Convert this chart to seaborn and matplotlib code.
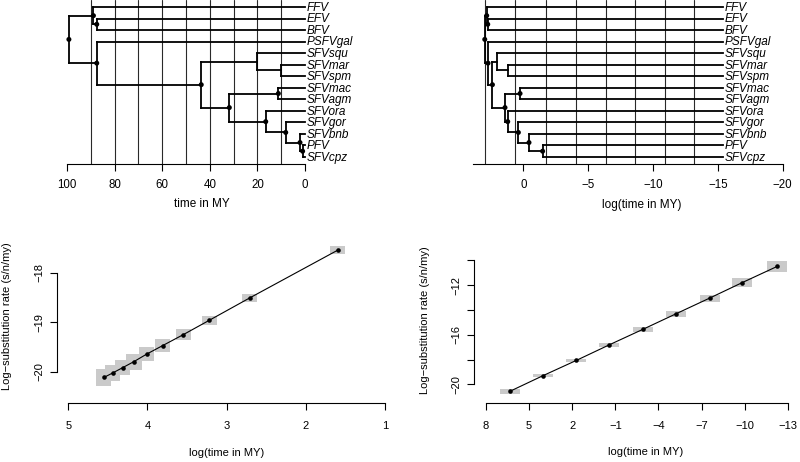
import numpy as np
import pandas as pd
import matplotlib
matplotlib.use("Agg")
import matplotlib.pyplot as plt
import seaborn as sns

# ---------------- data ----------------
tip_labels = ["FFV", "EFV", "BFV", "PSFVgal", "SFVsqu", "SFVmar", "SFVspm",
              "SFVmac", "SFVagm", "SFVora", "SFVgor", "SFVbnb", "PFV", "SFVcpz"]
node_names = ["root", "nF", "nEB", "nB", "nNW", "nSQU", "nMAR",
              "nCAT", "nMAC", "nORA", "nGOR", "nBNB", "nPC"]
node_children = [("nF", "nB"), ("FFV", "nEB"), ("EFV", "BFV"), ("PSFVgal", "nNW"),
                 ("nSQU", "nCAT"), ("SFVsqu", "nMAR"), ("SFVmar", "SFVspm"),
                 ("nMAC", "nORA"), ("SFVmac", "SFVagm"), ("SFVora", "nGOR"),
                 ("SFVgor", "nBNB"), ("SFVbnb", "nPC"), ("PFV", "SFVcpz")]
node_age_my = [99.2, 88.9, 87.5, 87.5, 43.6, 20.3, 10.2, 31.8, 11.2, 16.5, 8.1, 2.1, 1.0]
node_logx = [2.97, 2.82, 2.74, 2.72, 2.38, 2.05, 1.20, 1.41, 0.25, 1.20, 0.38, -0.44, -1.49]
node_dot = [True, True, True, True, True, False, False, True, True, True, True, True, True]
tip_age_my = 0.0
tip_logx = -15.36

bins_time = [90, 80, 70, 60, 50, 40, 30, 20, 10]
bins_logtime = [2.92, 0.64, -1.72, -4.03, -6.34, -8.62, -10.90, -13.15]

time_ticks = [100, 80, 60, 40, 20, 0]
logtime_ticks = [0, -5, -10, -15, -20]

# bottom-left: rate vs log(time), binned by time
bl_x = [4.55, 4.44, 4.31, 4.17, 4.01, 3.81, 3.55, 3.22, 2.71, 1.60]
bl_y = [-20.11, -20.02, -19.91, -19.79, -19.64, -19.47, -19.25, -18.96, -18.51, -17.55]
bl_w = [0.19, 0.19, 0.19, 0.19, 0.19, 0.19, 0.19, 0.19, 0.19, 0.19]
bl_h = [0.36, 0.32, 0.32, 0.32, 0.28, 0.25, 0.22, 0.18, 0.15, 0.17]
bl_xticks = [5, 4, 3, 2, 1]
bl_yticks = [-20, -19, -18]

# bottom-right: rate vs log(time), binned by log(time)
br_x = [6.33, 4.03, 1.71, -0.59, -2.91, -5.23, -7.56, -9.81, -12.25]
br_y = [-20.56, -19.30, -18.07, -16.81, -15.57, -14.31, -13.05, -11.81, -10.50]
br_w = [1.39, 1.39, 1.39, 1.39, 1.39, 1.39, 1.39, 1.39, 1.39]
br_h = [0.37, 0.27, 0.24, 0.30, 0.37, 0.48, 0.56, 0.72, 0.89]
br_xticks = [8, 5, 2, -1, -4, -7, -10, -13]
br_yticks = [-20, -18, -16, -14, -12, -10]
br_ylabels = ["\u221220", "", "\u221216", "", "\u221212", ""]

# ---------------- style ----------------
sns.set_theme(style="ticks", rc={
    "axes.edgecolor": "black", "xtick.color": "black", "ytick.color": "black",
    "text.color": "black", "axes.labelcolor": "black",
    "axes.linewidth": 0.8, "xtick.major.width": 0.8, "ytick.major.width": 0.8,
    "xtick.major.size": 5, "ytick.major.size": 5,
    "xtick.labelsize": 8, "ytick.labelsize": 8,
})
plt.rcParams["font.family"] = ["Liberation Sans", "DejaVu Sans"]
plt.rcParams["axes.unicode_minus"] = True

W, H = 800, 462
fig = plt.figure(figsize=(8, 4.62), dpi=100)


def box(l, t, r, b):
    return [l / W, 1 - b / H, (r - l) / W, (b - t) / H]


def minus(v):
    s = f"{v:g}"
    return s.replace("-", "\u2212")


def tree_y():
    ypos = {name: i + 1 for i, name in enumerate(tip_labels)}
    children = dict(zip(node_names, node_children))

    def gety(n):
        if n not in ypos:
            c1, c2 = children[n]
            ypos[n] = (gety(c1) + gety(c2)) / 2
        return ypos[n]

    gety("root")
    return ypos


def draw_tree(ax, node_x, tip_x, bins, xlim, ticks, spine_bounds):
    ax.set_xlim(*xlim)
    ax.set_ylim(14.61, 0.393)
    for b in bins:
        ax.axvline(b, color="#2a2a2a", lw=0.8, zorder=1)
    xs = dict(zip(node_names, node_x))
    for t in tip_labels:
        xs[t] = tip_x
    ypos = tree_y()
    for n, (c1, c2) in zip(node_names, node_children):
        ax.plot([xs[n], xs[n]], [ypos[c1], ypos[c2]], color="black", lw=1.3,
                solid_capstyle="projecting", clip_on=False, zorder=3)
        for c in (c1, c2):
            ax.plot([xs[n], xs[c]], [ypos[c], ypos[c]], color="black", lw=1.3,
                    solid_capstyle="projecting", clip_on=False, zorder=3)
    dots = pd.DataFrame({
        "x": [x for x, d in zip(node_x, node_dot) if d],
        "y": [ypos[n] for n, d in zip(node_names, node_dot) if d],
    })
    sns.scatterplot(data=dots, x="x", y="y", ax=ax, color="black", s=13,
                    edgecolor="none", zorder=4, clip_on=False, legend=False)
    for t in tip_labels:
        ax.annotate(t, (tip_x, ypos[t]), xytext=(1.2, -0.6), textcoords="offset points",
                    ha="left", va="center", fontsize=8.5, style="italic",
                    annotation_clip=False)
    for s in ["top", "right", "left"]:
        ax.spines[s].set_visible(False)
    ax.spines["bottom"].set_bounds(*spine_bounds)
    ax.set_xticks(ticks)
    ax.set_xticklabels([minus(v) for v in ticks])
    ax.tick_params(axis="x", length=5, pad=5.8, labelsize=8.3)
    ax.set_yticks([])
    ax.set_xlabel("")
    ax.set_ylabel("")


# top-left: tree in time
ax1 = fig.add_axes(box(67, 0, 305, 164))
draw_tree(ax1, node_age_my, tip_age_my, bins_time, (100, 0), time_ticks, (100, 0))
fig.text(202 / W, 1 - 204 / H, "time in MY", ha="center", va="center", fontsize=8.5)

# top-right: tree in log time
ax2 = fig.add_axes(box(472.7, 0, 782.7, 164))
draw_tree(ax2, node_logx, tip_logx, bins_logtime, (3.9, -20), logtime_ticks, (3.9, -20))
fig.text(642 / W, 1 - 205 / H, "log(time in MY)", ha="center", va="center", fontsize=8.5)


def draw_rate(ax, x, y, w, h, xlim, ylim, xticks, yticks, ylabels, xb, yb):
    ax.bar(x, h, width=w, bottom=[yy - hh / 2 for yy, hh in zip(y, h)],
           color="#cacaca", edgecolor="none", zorder=1)
    df = pd.DataFrame({"x": x, "y": y})
    sns.lineplot(data=df, x="x", y="y", ax=ax, sort=False, color="black", lw=0.8,
                 marker="o", markersize=3.3, markeredgewidth=0, zorder=3)
    ax.set_xlim(*xlim)
    ax.set_ylim(*ylim)
    for s in ["top", "right"]:
        ax.spines[s].set_visible(False)
    ax.spines["bottom"].set_bounds(*xb)
    ax.spines["left"].set_bounds(*yb)
    ax.set_xticks(xticks)
    ax.set_xticklabels([minus(v) for v in xticks])
    ax.set_yticks(yticks)
    ax.set_yticklabels(ylabels)
    ax.tick_params(axis="x", length=5, pad=8, labelsize=8)
    ax.tick_params(axis="y", length=5, pad=4, labelsize=8)
    for lab in ax.get_yticklabels():
        lab.set_rotation(90)
        lab.set_va("center")
        lab.set_ha("right")
    ax.set_xlabel("")
    ax.set_ylabel("")


ax3 = fig.add_axes(box(56.7, 240, 397.8, 403))
draw_rate(ax3, bl_x, bl_y, bl_w, bl_h, (5.146, 0.84), (-20.624, -17.344),
          bl_xticks, bl_yticks, [minus(v) for v in bl_yticks], (5, 1), (-20, -18))
fig.text(227 / W, 1 - 452.5 / H, "log(time in MY)", ha="center", va="center", fontsize=8)
fig.text(7.5 / W, 1 - 316 / H, "Log\u2212substitution rate (s/n/my)", ha="center",
         va="center", rotation=90, fontsize=8)

ax4 = fig.add_axes(box(474, 240, 795, 403))
draw_rate(ax4, br_x, br_y, br_w, br_h, (8.835, -13.50), (-21.506, -8.366),
          br_xticks, br_yticks, br_ylabels, (8, -13), (-20, -10))
fig.text(646 / W, 1 - 452 / H, "log(time in MY)", ha="center", va="center", fontsize=8)
fig.text(425 / W, 1 - 320 / H, "Log\u2212substitution rate (s/n/my)", ha="center",
         va="center", rotation=90, fontsize=8)

fig.savefig("out.png", dpi=100, facecolor="white")
